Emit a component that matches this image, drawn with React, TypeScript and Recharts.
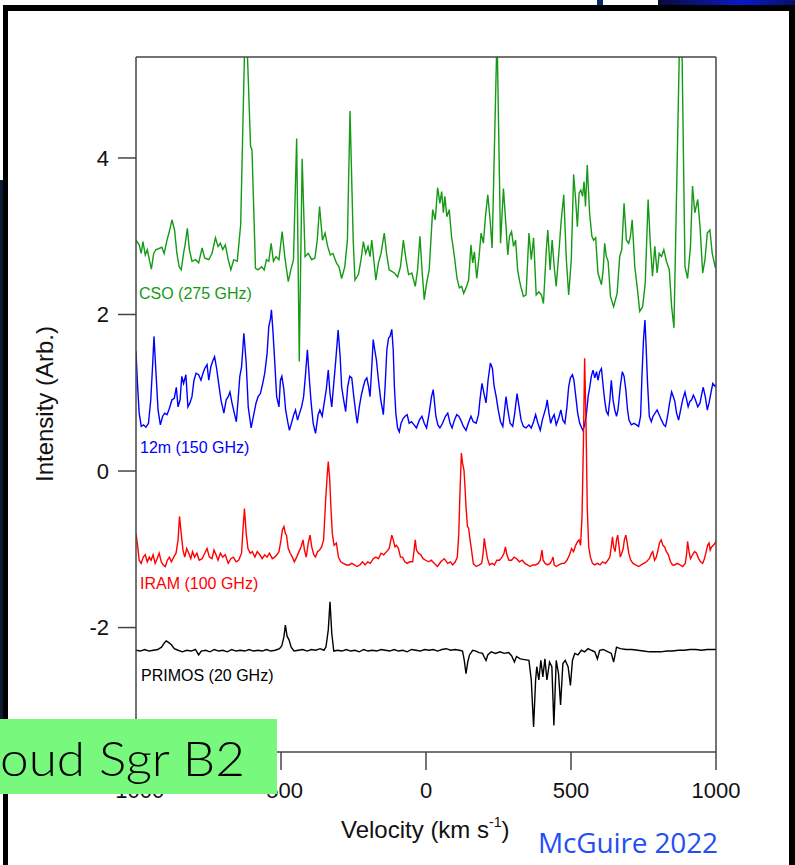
import { LineChart, Line, XAxis, YAxis } from "recharts";

type Pt = [number, number]; // [velocity km/s, intensity]

const X_TICKS = [-1000, -500, 0, 500, 1000];
const Y_TICKS = [-2, 0, 2, 4];
const X_DOMAIN: [number, number] = [-1000, 1000];
const Y_DOMAIN: [number, number] = [-3.59, 5.29];

// CSO 275 GHz (green)
const CSO_275: Pt[] = [
  [-1000, 2.95], [-989, 2.89], [-982, 2.78], [-976, 2.93], [-968, 2.76], [-961, 2.83], [-954, 2.7], [-947, 2.58],
  [-939, 2.78], [-931, 2.83], [-922, 2.84], [-911, 2.86], [-903, 2.78], [-893, 2.95], [-885, 3.06], [-876, 3.21],
  [-867, 3.08], [-859, 2.78], [-851, 2.61], [-844, 2.57], [-836, 2.78], [-830, 2.91], [-823, 3.1], [-816, 2.83],
  [-807, 2.68], [-795, 2.7], [-784, 2.66], [-772, 2.85], [-763, 2.72], [-749, 2.7], [-738, 2.78], [-726, 2.98],
  [-717, 2.87], [-709, 2.91], [-701, 2.83], [-692, 2.89], [-682, 2.7], [-673, 2.57], [-663, 2.7], [-651, 2.68],
  [-646, 2.87], [-639, 3.15], [-622, 6.0], [-605, 4.15], [-600, 4.1], [-588, 2.59], [-579, 2.57], [-567, 2.61],
  [-558, 2.57], [-550, 2.7], [-542, 2.68], [-534, 2.91], [-526, 2.68], [-517, 2.74], [-507, 2.7], [-496, 3.06],
  [-487, 2.74], [-475, 2.42], [-466, 2.57], [-457, 2.7], [-446, 4.25], [-437, 1.4], [-427, 3.99], [-417, 2.74],
  [-406, 2.78], [-394, 2.7], [-383, 2.72], [-375, 2.95], [-367, 3.38], [-357, 2.95], [-348, 3.04], [-339, 2.87],
  [-330, 2.76], [-321, 2.78], [-309, 2.66], [-300, 2.61], [-291, 2.46], [-280, 2.61], [-271, 2.95], [-262, 4.6],
  [-251, 2.95], [-245, 2.44], [-233, 2.51], [-224, 2.7], [-216, 2.93], [-208, 2.78], [-200, 2.87], [-193, 2.74],
  [-187, 2.95], [-180, 2.7], [-173, 2.44], [-164, 2.66], [-155, 2.78], [-144, 3.04], [-136, 2.78], [-127, 2.57],
  [-118, 2.55], [-109, 2.53], [-98, 2.48], [-88, 2.61], [-78, 2.95], [-69, 2.7], [-60, 2.51], [-49, 2.53],
  [-37, 2.36], [-29, 2.57], [-21, 3.0], [-13, 2.53], [-6, 2.19], [2, 2.4], [11, 2.57], [23, 3.34],
  [32, 3.21], [40, 3.62], [48, 3.42], [54, 3.57], [60, 3.3], [65, 3.51], [72, 3.25], [80, 3.34],
  [88, 3.0], [98, 2.74], [107, 2.46], [115, 2.34], [123, 2.36], [130, 2.27], [138, 2.34], [147, 2.44],
  [155, 2.89], [161, 2.66], [167, 2.8], [175, 2.46], [184, 2.78], [190, 3.04], [198, 2.91], [205, 3.25],
  [213, 3.53], [221, 3.21], [228, 2.85], [245, 5.6], [257, 2.91], [267, 3.61], [276, 3.12], [282, 2.76],
  [288, 3.0], [295, 3.06], [302, 2.87], [309, 2.95], [316, 2.57], [322, 2.44], [328, 2.34], [336, 2.23],
  [345, 2.25], [355, 3.04], [363, 2.7], [371, 2.98], [380, 2.25], [389, 2.29], [398, 2.25], [405, 2.14],
  [415, 2.83], [420, 3.08], [428, 2.57], [435, 2.95], [442, 2.61], [449, 2.36], [458, 2.78], [466, 3.19],
  [475, 3.53], [484, 2.7], [492, 2.25], [501, 2.7], [509, 3.79], [516, 3.47], [522, 3.12], [528, 3.55],
  [534, 3.59], [540, 3.51], [545, 3.7], [550, 3.38], [556, 3.91], [564, 3.3], [572, 3.0], [578, 2.95],
  [585, 2.98], [593, 2.53], [605, 2.38], [611, 2.57], [616, 2.91], [622, 2.74], [628, 2.68], [636, 2.23],
  [647, 2.1], [659, 2.27], [668, 2.74], [675, 2.83], [683, 3.42], [691, 2.95], [699, 2.91], [705, 3.0],
  [711, 3.21], [720, 2.61], [728, 2.36], [737, 2.04], [747, 2.1], [756, 2.4], [766, 3.47], [774, 2.87],
  [781, 2.49], [789, 2.87], [797, 2.53], [804, 2.78], [812, 2.74], [820, 2.83], [829, 2.68], [839, 2.57],
  [847, 2.1], [855, 1.83], [879, 6.4], [893, 2.61], [902, 2.46], [912, 2.87], [919, 3.64], [927, 3.3],
  [937, 3.47], [945, 3.12], [954, 2.53], [962, 2.7], [970, 3.04], [979, 3.08], [987, 2.78], [997, 2.61],
  [1000, 2.62],
];

// 12m 150 GHz (blue)
const TWELVE_M_150: Pt[] = [
  [-1000, 1.53], [-995, 1.12], [-989, 0.74], [-982, 0.57], [-974, 0.59], [-966, 0.56], [-957, 0.61], [-949, 0.91],
  [-943, 1.33], [-938, 1.72], [-931, 1.25], [-924, 0.78], [-916, 0.59], [-908, 0.7], [-901, 0.74], [-893, 0.72],
  [-885, 0.8], [-876, 0.91], [-868, 0.93], [-861, 1.07], [-855, 0.82], [-848, 0.91], [-842, 1.21], [-836, 1.12],
  [-828, 1.23], [-821, 0.82], [-814, 0.87], [-807, 0.95], [-800, 1.16], [-793, 1.25], [-784, 1.23], [-776, 1.16],
  [-769, 1.25], [-763, 1.31], [-755, 1.36], [-749, 1.16], [-742, 1.33], [-736, 1.4], [-729, 1.46], [-722, 1.31],
  [-715, 1.12], [-707, 0.91], [-697, 0.74], [-689, 0.91], [-682, 0.95], [-676, 1.01], [-669, 0.87], [-661, 0.74],
  [-654, 0.63], [-648, 0.91], [-642, 1.21], [-636, 1.33], [-628, 1.76], [-620, 1.38], [-613, 0.82], [-603, 0.55],
  [-594, 0.72], [-586, 0.87], [-579, 0.95], [-571, 0.99], [-563, 1.12], [-556, 1.25], [-548, 1.5], [-542, 1.85],
  [-536, 1.95], [-533, 2.06], [-528, 1.8], [-522, 1.42], [-515, 0.95], [-507, 0.82], [-502, 1.16], [-497, 1.21],
  [-490, 1.04], [-484, 0.78], [-477, 0.63], [-471, 0.52], [-464, 0.61], [-456, 0.72], [-450, 0.78], [-443, 0.65],
  [-436, 0.74], [-429, 0.82], [-422, 0.95], [-416, 1.21], [-409, 1.55], [-402, 1.16], [-396, 0.87], [-389, 0.61],
  [-381, 0.48], [-372, 0.72], [-366, 0.78], [-358, 0.7], [-351, 0.87], [-344, 1.04], [-337, 1.29], [-331, 0.99],
  [-325, 0.82], [-318, 1.12], [-311, 1.42], [-303, 1.8], [-296, 1.46], [-291, 1.08], [-284, 0.91], [-277, 0.76],
  [-270, 1.08], [-263, 1.21], [-256, 1.19], [-249, 0.95], [-242, 0.74], [-237, 0.61], [-230, 0.82], [-223, 0.97],
  [-216, 1.08], [-210, 1.16], [-204, 1.19], [-198, 1.08], [-193, 0.95], [-187, 1.33], [-182, 1.68], [-177, 1.55],
  [-171, 1.42], [-164, 1.16], [-156, 0.91], [-147, 0.72], [-141, 1.08], [-135, 1.55], [-129, 1.7], [-124, 1.72],
  [-118, 1.81], [-113, 1.55], [-109, 1.08], [-104, 0.74], [-98, 0.55], [-92, 0.5], [-86, 0.61], [-79, 0.67],
  [-72, 0.7], [-65, 0.72], [-58, 0.61], [-50, 0.63], [-41, 0.59], [-33, 0.55], [-23, 0.65], [-14, 0.7],
  [-6, 0.61], [2, 0.55], [11, 0.74], [19, 0.95], [25, 1.04], [34, 0.7], [41, 0.59], [48, 0.55],
  [57, 0.61], [67, 0.7], [75, 0.74], [83, 0.61], [90, 0.55], [98, 0.65], [106, 0.72], [113, 0.7],
  [120, 0.65], [129, 0.57], [138, 0.52], [146, 0.61], [155, 0.7], [163, 0.63], [173, 0.61], [181, 0.72],
  [186, 0.91], [193, 1.12], [200, 0.99], [207, 0.87], [214, 1.16], [222, 1.38], [229, 1.31], [235, 1.08],
  [242, 0.95], [249, 0.78], [257, 0.63], [265, 0.57], [271, 0.78], [276, 0.95], [282, 0.78], [290, 0.61],
  [299, 0.57], [306, 0.74], [314, 0.99], [321, 0.82], [328, 0.65], [336, 0.57], [345, 0.55], [355, 0.59],
  [363, 0.55], [371, 0.63], [378, 0.72], [386, 0.61], [394, 0.52], [401, 0.65], [408, 0.74], [414, 0.82],
  [418, 0.91], [424, 0.74], [430, 0.61], [435, 0.67], [442, 0.72], [449, 0.59], [457, 0.67], [465, 0.78],
  [472, 0.65], [479, 0.61], [486, 0.82], [492, 1.08], [498, 1.19], [505, 1.23], [510, 1.16], [516, 0.97],
  [523, 0.74], [530, 0.61], [537, 0.55], [541, 0.52], [547, 0.59], [553, 0.72], [559, 0.95], [565, 1.08],
  [570, 1.21], [576, 1.29], [582, 1.19], [588, 1.27], [593, 1.16], [599, 1.27], [605, 1.31], [611, 1.08],
  [616, 0.91], [622, 0.76], [628, 0.72], [634, 0.91], [639, 1.16], [645, 0.91], [651, 0.78], [657, 0.7],
  [662, 0.78], [670, 1.08], [677, 1.27], [683, 1.21], [689, 1.04], [695, 0.78], [700, 0.65], [708, 0.59],
  [717, 0.61], [726, 0.59], [733, 0.57], [740, 0.7], [745, 1.25], [750, 1.68], [755, 1.93], [759, 1.59],
  [764, 1.12], [770, 0.7], [777, 0.63], [783, 0.7], [790, 0.74], [797, 0.78], [804, 0.72], [812, 0.65],
  [820, 0.59], [826, 0.57], [833, 0.7], [840, 0.87], [847, 1.01], [853, 0.95], [858, 0.89], [864, 0.74],
  [871, 0.65], [878, 0.78], [885, 0.91], [893, 1.01], [899, 0.91], [904, 0.82], [910, 0.89], [916, 0.91],
  [922, 0.97], [929, 0.91], [937, 0.82], [945, 0.87], [951, 0.99], [956, 1.07], [963, 0.95], [970, 0.78],
  [976, 0.87], [982, 0.99], [989, 1.12], [997, 1.08], [1000, 1.1],
];

// IRAM 100 GHz (red)
const IRAM_100: Pt[] = [
  [-1000, -0.8], [-994, -0.97], [-989, -1.14], [-982, -1.18], [-975, -1.1], [-968, -1.07], [-961, -1.16], [-954, -1.1],
  [-948, -1.14], [-941, -1.07], [-934, -1.18], [-927, -1.12], [-920, -1.05], [-913, -1.16], [-906, -1.2], [-899, -1.22],
  [-892, -1.14], [-885, -1.1], [-878, -1.16], [-870, -1.1], [-862, -1.05], [-855, -0.88], [-850, -0.58], [-844, -0.8],
  [-838, -1.01], [-832, -1.1], [-825, -0.99], [-818, -1.05], [-811, -1.12], [-805, -1.03], [-798, -1.1], [-790, -1.05],
  [-782, -1.14], [-772, -1.12], [-763, -1.05], [-755, -0.99], [-747, -1.1], [-738, -1.12], [-731, -1.01], [-724, -1.07],
  [-717, -1.14], [-709, -1.05], [-701, -1.1], [-692, -1.07], [-682, -1.18], [-673, -1.12], [-664, -1.1], [-655, -1.16],
  [-646, -1.14], [-636, -1.05], [-632, -0.8], [-626, -0.48], [-620, -0.8], [-614, -0.99], [-606, -1.05], [-599, -1.03],
  [-590, -1.1], [-582, -1.03], [-573, -1.07], [-565, -1.12], [-556, -1.07], [-548, -1.1], [-540, -1.05], [-530, -1.12],
  [-522, -1.1], [-514, -1.07], [-507, -1.03], [-500, -0.88], [-495, -0.75], [-490, -0.71], [-485, -0.8], [-481, -0.82],
  [-475, -0.99], [-468, -1.05], [-461, -1.1], [-454, -1.16], [-446, -1.1], [-438, -1.03], [-431, -0.97], [-424, -0.88],
  [-419, -1.01], [-413, -1.1], [-406, -0.92], [-400, -0.82], [-394, -0.97], [-387, -1.07], [-381, -1.1], [-374, -1.03],
  [-367, -1.01], [-360, -0.97], [-353, -0.88], [-346, -0.37], [-341, -0.07], [-337, 0.12], [-332, -0.11], [-328, -0.46],
  [-323, -0.8], [-317, -0.95], [-309, -0.92], [-302, -1.1], [-294, -1.16], [-285, -1.18], [-274, -1.2], [-265, -1.2],
  [-256, -1.18], [-247, -1.2], [-238, -1.22], [-228, -1.2], [-219, -1.16], [-210, -1.2], [-201, -1.16], [-192, -1.18],
  [-182, -1.12], [-173, -1.1], [-164, -1.12], [-155, -1.05], [-146, -1.07], [-136, -1.03], [-127, -0.99], [-121, -0.88],
  [-118, -0.82], [-113, -0.88], [-107, -0.97], [-102, -0.95], [-95, -0.99], [-88, -1.1], [-81, -1.1], [-73, -1.16],
  [-65, -1.18], [-56, -1.16], [-46, -1.16], [-41, -1.01], [-37, -0.88], [-33, -1.01], [-26, -1.05], [-18, -1.07],
  [-10, -1.12], [-1, -1.14], [9, -1.16], [18, -1.14], [29, -1.18], [40, -1.22], [51, -1.16], [63, -1.12],
  [75, -1.18], [84, -1.16], [92, -1.2], [101, -1.16], [108, -1.1], [113, -0.8], [117, -0.29], [122, 0.23],
  [126, 0.1], [131, 0.01], [135, -0.24], [138, -0.46], [143, -0.71], [147, -0.73], [152, -0.88], [157, -1.01],
  [163, -1.18], [173, -1.22], [184, -1.2], [192, -1.18], [197, -1.05], [201, -0.86], [206, -0.99], [212, -1.12],
  [219, -1.2], [228, -1.18], [236, -1.2], [244, -1.14], [253, -1.14], [262, -1.1], [269, -1.05], [274, -0.97],
  [279, -1.07], [286, -1.14], [295, -1.14], [304, -1.1], [313, -1.12], [322, -1.16], [332, -1.14], [341, -1.18],
  [350, -1.2], [359, -1.22], [368, -1.2], [378, -1.2], [387, -1.18], [394, -1.14], [400, -1.01], [404, -1.14],
  [411, -1.18], [419, -1.2], [428, -1.18], [434, -1.14], [438, -1.1], [442, -1.2], [449, -1.22], [458, -1.2],
  [468, -1.18], [477, -1.18], [486, -1.14], [495, -1.07], [502, -0.99], [509, -1.03], [516, -0.95], [523, -0.9],
  [528, -0.88], [533, -0.95], [538, -0.58], [543, 0.4], [547, 1.44], [552, 0.57], [556, -0.46], [561, -0.97],
  [567, -1.1], [574, -1.18], [582, -1.2], [591, -1.18], [600, -1.2], [609, -1.16], [619, -1.18], [627, -1.14],
  [634, -1.1], [638, -0.99], [643, -0.84], [647, -0.97], [652, -1.03], [657, -0.88], [661, -0.82], [666, -0.97],
  [670, -1.1], [675, -1.05], [680, -0.99], [684, -0.88], [689, -0.82], [694, -0.92], [699, -1.05], [706, -1.14],
  [714, -1.18], [723, -1.2], [733, -1.22], [742, -1.2], [751, -1.18], [760, -1.16], [770, -1.12], [778, -1.05],
  [782, -1.03], [788, -1.14], [794, -1.1], [800, -1.01], [805, -0.92], [811, -0.88], [817, -0.95], [823, -0.97],
  [829, -1.03], [836, -1.07], [843, -1.16], [850, -1.2], [858, -1.2], [866, -1.18], [876, -1.2], [885, -1.22],
  [894, -1.18], [899, -1.05], [902, -0.9], [907, -1.03], [912, -1.12], [919, -1.07], [926, -1.03], [933, -1.05],
  [940, -1.12], [947, -1.16], [954, -1.18], [960, -1.12], [965, -1.05], [971, -0.95], [976, -0.92], [980, -1.01],
  [985, -0.97], [991, -0.95], [997, -0.92], [1000, -0.9],
];

// PRIMOS 20 GHz (black)
const PRIMOS_20: Pt[] = [
  [-1000, -2.29], [-985, -2.3], [-970, -2.28], [-955, -2.3], [-940, -2.29], [-925, -2.28], [-912, -2.25], [-903, -2.2],
  [-896, -2.17], [-888, -2.19], [-878, -2.22], [-868, -2.27], [-855, -2.29], [-840, -2.31], [-825, -2.29], [-810, -2.3],
  [-795, -2.28], [-784, -2.35], [-775, -2.3], [-760, -2.29], [-745, -2.31], [-730, -2.28], [-715, -2.3], [-700, -2.29],
  [-685, -2.31], [-670, -2.28], [-655, -2.3], [-640, -2.29], [-625, -2.3], [-610, -2.28], [-595, -2.3], [-580, -2.29],
  [-565, -2.3], [-550, -2.28], [-535, -2.3], [-520, -2.29], [-505, -2.27], [-497, -2.23], [-490, -2.12], [-485, -1.97],
  [-479, -2.11], [-472, -2.16], [-465, -2.25], [-455, -2.3], [-440, -2.29], [-425, -2.28], [-410, -2.3], [-395, -2.28],
  [-380, -2.29], [-365, -2.27], [-352, -2.29], [-345, -2.25], [-337, -2.03], [-331, -1.67], [-325, -2.07], [-318, -2.3],
  [-305, -2.29], [-290, -2.3], [-275, -2.28], [-260, -2.3], [-245, -2.29], [-230, -2.31], [-215, -2.28], [-200, -2.3],
  [-185, -2.29], [-170, -2.3], [-155, -2.28], [-140, -2.29], [-125, -2.3], [-110, -2.28], [-95, -2.3], [-80, -2.29],
  [-65, -2.31], [-50, -2.28], [-35, -2.29], [-20, -2.3], [-5, -2.28], [10, -2.29], [25, -2.28], [40, -2.3],
  [55, -2.28], [70, -2.27], [85, -2.29], [100, -2.28], [115, -2.29], [126, -2.3], [132, -2.42], [138, -2.59],
  [144, -2.44], [150, -2.35], [161, -2.29], [172, -2.3], [183, -2.32], [195, -2.33], [201, -2.38], [207, -2.42],
  [213, -2.35], [225, -2.31], [240, -2.33], [255, -2.31], [270, -2.33], [285, -2.32], [295, -2.36], [305, -2.44],
  [312, -2.37], [325, -2.4], [340, -2.41], [355, -2.42], [363, -2.67], [371, -3.27], [378, -2.67], [382, -2.5],
  [389, -2.67], [396, -2.42], [403, -2.63], [410, -2.4], [417, -2.67], [426, -2.44], [434, -2.5], [441, -3.25],
  [449, -2.42], [457, -2.59], [464, -2.99], [472, -2.46], [480, -2.42], [490, -2.5], [498, -2.74], [505, -2.42],
  [513, -2.33], [524, -2.35], [536, -2.29], [547, -2.31], [559, -2.27], [570, -2.29], [582, -2.31], [591, -2.4],
  [599, -2.29], [611, -2.28], [628, -2.31], [639, -2.33], [647, -2.44], [657, -2.25], [670, -2.27], [690, -2.28],
  [710, -2.28], [730, -2.29], [750, -2.3], [770, -2.31], [790, -2.31], [810, -2.31], [830, -2.3], [850, -2.3],
  [870, -2.29], [890, -2.29], [910, -2.28], [930, -2.28], [950, -2.29], [970, -2.28], [990, -2.28], [1000, -2.28],
];

const SERIES = [
  { key: "cso", label: "CSO (275 GHz)", points: CSO_275, color: "#149a14", labelX: 139, labelY: 299 },
  { key: "12m", label: "12m (150 GHz)", points: TWELVE_M_150, color: "#0000ff", labelX: 140, labelY: 453 },
  { key: "iram", label: "IRAM (100 GHz)", points: IRAM_100, color: "#ff0000", labelX: 140, labelY: 589 },
  { key: "primos", label: "PRIMOS (20 GHz)", points: PRIMOS_20, color: "#000000", labelX: 141, labelY: 681 },
];

const toRows = (pts: Pt[]) => pts.map(([v, i]) => ({ v, i }));

const AXIS = "#444";
const SANS = "'Liberation Sans', Arial, Helvetica, sans-serif";
const tickStyle = { fontSize: 22, fill: "#111", fontFamily: SANS };

export default function App() {
  return (
    <div style={{ position: "absolute", left: 0, top: 0, width: 795, height: 865, background: "#fff", overflow: "hidden" }}>
      <div style={{ position: "absolute", left: 0, top: 0 }}>
        <LineChart width={795} height={865} margin={{ top: 37, right: 59, bottom: 83, left: 96 }}>
          <XAxis
            dataKey="v"
            type="number"
            domain={X_DOMAIN}
            ticks={X_TICKS}
            allowDataOverflow
            height={30}
            tickSize={18}
            tickMargin={12}
            stroke={AXIS}
            axisLine={{ stroke: AXIS, strokeWidth: 1.5 }}
            tickLine={{ stroke: AXIS, strokeWidth: 1.5 }}
            tick={tickStyle}
          />
          <XAxis
            xAxisId="top"
            orientation="top"
            dataKey="v"
            type="number"
            domain={X_DOMAIN}
            ticks={X_TICKS}
            allowDataOverflow
            height={20}
            tickSize={17}
            stroke={AXIS}
            axisLine={{ stroke: AXIS, strokeWidth: 1.5 }}
            tickLine={{ stroke: AXIS, strokeWidth: 1.5 }}
            tick={false}
          />
          <YAxis
            type="number"
            domain={Y_DOMAIN}
            ticks={Y_TICKS}
            allowDataOverflow
            width={40}
            tickSize={18}
            tickMargin={9}
            stroke={AXIS}
            axisLine={{ stroke: AXIS, strokeWidth: 1.5 }}
            tickLine={{ stroke: AXIS, strokeWidth: 1.5 }}
            tick={tickStyle}
          />
          <YAxis
            yAxisId="right"
            orientation="right"
            type="number"
            domain={Y_DOMAIN}
            ticks={Y_TICKS}
            allowDataOverflow
            width={20}
            tickSize={19}
            stroke={AXIS}
            axisLine={{ stroke: AXIS, strokeWidth: 1.5 }}
            tickLine={{ stroke: AXIS, strokeWidth: 1.5 }}
            tick={false}
          />
          {SERIES.map((s) => (
            <Line
              key={s.key}
              data={toRows(s.points)}
              dataKey="i"
              name={s.label}
              type="linear"
              stroke={s.color}
              strokeWidth={1.4}
              dot={false}
              activeDot={false}
              isAnimationActive={false}
            />
          ))}
        </LineChart>
      </div>

      <svg width={795} height={865} style={{ position: "absolute", left: 0, top: 0, pointerEvents: "none" }}>
        {/* slide background scraps outside the frame */}
        <defs>
          <linearGradient id="navy" x1="0" x2="1" y1="0" y2="0">
            <stop offset="0" stopColor="#0a0a3a" />
            <stop offset="0.6" stopColor="#0a18c8" />
            <stop offset="1" stopColor="#05106a" />
          </linearGradient>
        </defs>
        <rect x={658} y={0} width={137} height={6} fill="url(#navy)" />
        <rect x={597} y={0} width={6} height={6} fill="#0b2a6a" />
        <rect x={0} y={180} width={3} height={540} fill="#0c1b35" />
        {/* black frame */}
        <rect x={3} y={5} width={787} height={6} fill="#000" />
        <rect x={3} y={5} width={5} height={860} fill="#000" />
        <rect x={789} y={5} width={6} height={860} fill="#000" />

        {/* series labels */}
        {SERIES.map((s) => (
          <text key={s.key} x={s.labelX} y={s.labelY} fill={s.color} fontSize={16} fontFamily={SANS}>
            {s.label}
          </text>
        ))}

        {/* axis titles */}
        <text transform="translate(53,404) rotate(-90)" textAnchor="middle" fontSize={24} fill="#111" fontFamily={SANS}>
          Intensity (Arb.)
        </text>
        <text x={341} y={838} fontSize={24} fill="#111" fontFamily={SANS}>
          Velocity (km s<tspan fontSize={14} dy={-11}>-1</tspan>
          <tspan dy={11}>)</tspan>
        </text>

        {/* slide overlays: the green title box covers part of the axis, as in the slide */}
        <rect x={0} y={719} width={277} height={75} fill="#78f97e" />
        <text
          x={0}
          y={776}
          fontSize={48}
          textLength={245}
          lengthAdjust="spacingAndGlyphs"
          fill="#000"
          fontFamily="Lato, 'Noto Sans', sans-serif"
          fontWeight={300}
        >
          oud Sgr B2
        </text>
        <text x={538} y={853} fontSize={28} textLength={180} fill="#1f4ff5" fontFamily="'Open Sans', 'Noto Sans', sans-serif">
          McGuire 2022
        </text>
      </svg>
    </div>
  );
}
